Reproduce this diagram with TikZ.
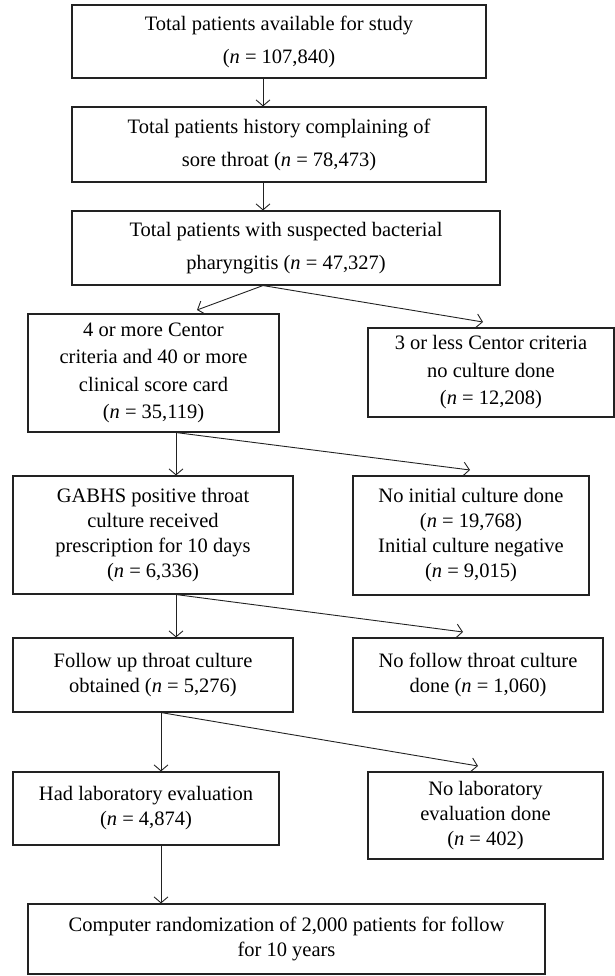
\documentclass[tikz,border=0pt]{standalone}
\usepackage{fontspec}
\setmainfont{Liberation Serif}
\usepackage{xcolor}
\usepackage{tikz}
\usetikzlibrary{arrows.meta}
\definecolor{ink}{HTML}{222222}
\tikzset{
  box/.style={draw=ink, line width=1.1pt, align=center, inner sep=0pt, font=\fontsize{20.5}{25}\selectfont},
  boxhi/.style={box, font=\fontsize{20.5}{33}\selectfont},
  boxmid/.style={box, font=\fontsize{20.5}{27.5}\selectfont},
  arr/.style={draw=ink, line width=0.9pt, -{Straight Barb[length=6pt,width=14pt]}},
}
\newcommand{\ncount}[1]{(\textit{n} = #1)}

\begin{document}
\begin{tikzpicture}[x=1pt,y=-1pt]
  \useasboundingbox (0,0) rectangle (615,976);

  % main column
  \node[boxhi, minimum width=414pt, minimum height=73pt] (b1) at (279,41.5)
    {Total patients available for study\\ \ncount{107,840}};
  \node[boxhi, minimum width=414pt, minimum height=75pt] (b2) at (279,144.5)
    {Total patients history complaining of\\ sore throat \ncount{78,473}};
  \node[boxhi, minimum width=428pt, minimum height=74pt] (b3) at (286,248)
    {Total patients with suspected bacterial\\ pharyngitis \ncount{47,327}};
  \node[boxmid, minimum width=251pt, minimum height=118pt] (b4) at (153.5,373)
    {4 or more Centor\\ criteria and 40 or more\\ clinical score card\\ \ncount{35,119}};
  \node[box, minimum width=280pt, minimum height=118pt] (b5) at (153,535)
    {GABHS positive throat\\ culture received\\ prescription for 10 days\\ \ncount{6,336}};
  \node[box, minimum width=280pt, minimum height=74pt] (b6) at (153,675)
    {Follow up throat culture\\ obtained \ncount{5,276}};
  \node[box, minimum width=266pt, minimum height=73pt] (b7) at (146,808.5)
    {Had laboratory evaluation\\ \ncount{4,874}};
  \node[box, minimum width=517pt, minimum height=70pt] (b8) at (286.5,939)
    {Computer randomization of 2,000 patients for follow\\ for 10 years};

  % excluded
  \node[boxmid, minimum width=246pt, minimum height=89pt] (r1) at (491,372.5)
    {3 or less Centor criteria\\ no culture done\\ \ncount{12,208}};
  \node[box, minimum width=236pt, minimum height=119pt] (r2) at (471,535.5)
    {No initial culture done\\ \ncount{19,768}\\ Initial culture negative\\ \ncount{9,015}};
  \node[box, minimum width=250pt, minimum height=74pt] (r3) at (478,675)
    {No follow throat culture\\ done \ncount{1,060}};
  \node[box, minimum width=235pt, minimum height=87pt] (r4) at (485.5,815.5)
    {No laboratory\\ evaluation done\\ \ncount{402}};

  \coordinate (c1) at (263,0);
  \coordinate (c2) at (176,0);
  \coordinate (c3) at (161,0);
  \coordinate (t4) at (197,310);
  \coordinate (t1) at (483,322);
  \coordinate (t2) at (470,470);
  \coordinate (t3) at (463,632);
  \coordinate (t5) at (478,766);

  \draw[arr] (c1 |- b1.south) -- (c1 |- b2.north);
  \draw[arr] (c1 |- b2.south) -- (c1 |- b3.north);
  \draw[arr] (c1 |- b3.south) -- (t4);
  \draw[arr] (c1 |- b3.south) -- (t1);
  \draw[arr] (c2 |- b4.south) -- (c2 |- b5.north);
  \draw[arr] (c2 |- b4.south) -- (t2);
  \draw[arr] (c2 |- b5.south) -- (c2 |- b6.north);
  \draw[arr] (c2 |- b5.south) -- (t3);
  \draw[arr] (c3 |- b6.south) -- (c3 |- b7.north);
  \draw[arr] (c3 |- b6.south) -- (t5);
  \draw[arr] (c3 |- b7.south) -- (c3 |- b8.north);
\end{tikzpicture}
\end{document}
